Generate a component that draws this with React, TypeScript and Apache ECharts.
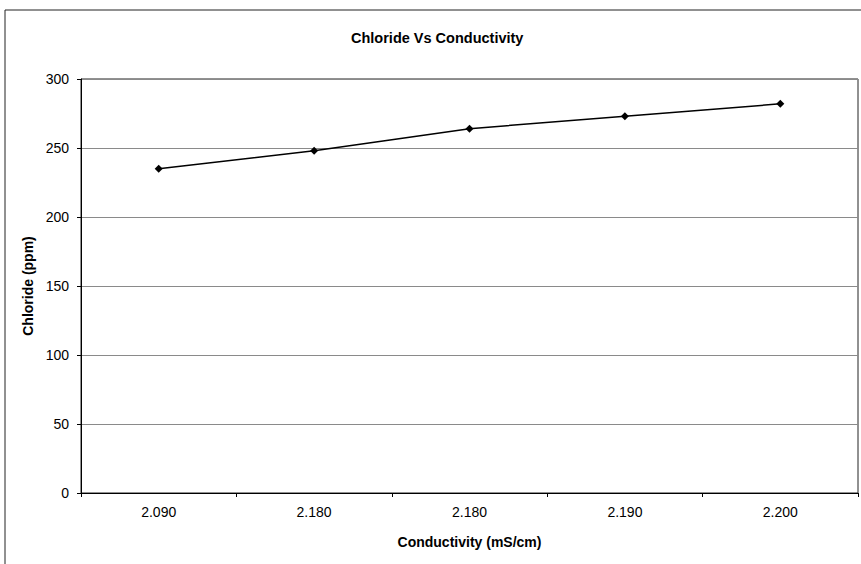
import React, { useEffect, useRef } from "react";
import * as echarts from "echarts";

const categories = ["2.090", "2.180", "2.180", "2.190", "2.200"];
const chloride = [235, 248, 264, 273, 282];
const yTicks = { min: 0, max: 300, interval: 50 };

export default function App() {
  const ref = useRef<HTMLDivElement>(null);
  useEffect(() => {
    if (!ref.current) return;
    const chart = echarts.init(ref.current, null, { renderer: "svg" });
    const font = "Liberation Sans, Arial, sans-serif";
    chart.setOption({
      animation: false,
      backgroundColor: "#fff",
      textStyle: { fontFamily: font },
      title: {
        text: "Chloride Vs Conductivity",
        left: 346,
        top: 25,
        textStyle: { fontSize: 14.5, fontWeight: "bold", color: "#000", fontFamily: font },
      },
      graphic: [
        {
          type: "rect",
          shape: { x: 5, y: 10, width: 900, height: 600 },
          style: { fill: "none", stroke: "#222", lineWidth: 1 },
          silent: true,
        },
      ],
      grid: { left: 81, right: 3, top: 79, bottom: 71, show: true, borderColor: "#222", borderWidth: 1 },
      xAxis: {
        type: "category",
        data: categories,
        boundaryGap: true,
        name: "Conductivity (mS/cm)",
        nameLocation: "middle",
        nameGap: 42,
        nameTextStyle: { fontSize: 14, fontWeight: "bold", color: "#000", fontFamily: font },
        axisLine: { lineStyle: { color: "#000", width: 1 } },
        axisTick: { show: true, length: 4, lineStyle: { color: "#000" } },
        axisLabel: { fontSize: 14, color: "#000", margin: 12, fontFamily: font },
        splitLine: { show: false },
      },
      yAxis: {
        type: "value",
        min: yTicks.min,
        max: yTicks.max,
        interval: yTicks.interval,
        name: "Chloride (ppm)",
        nameLocation: "middle",
        nameGap: 41,
        nameRotate: 90,
        nameTextStyle: { fontSize: 14, fontWeight: "bold", color: "#000", fontFamily: font },
        axisLine: { show: true, lineStyle: { color: "#000", width: 1 } },
        axisTick: { show: true, length: 4, lineStyle: { color: "#000" } },
        axisLabel: { fontSize: 14, color: "#000", margin: 12, fontFamily: font },
        splitLine: { show: true, lineStyle: { color: "#8a8a8a", width: 1 } },
      },
      series: [
        {
          type: "line",
          data: chloride,
          symbol: "diamond",
          symbolSize: 8,
          itemStyle: { color: "#000" },
          lineStyle: { color: "#000", width: 1.5 },
        },
      ],
    });
    return () => chart.dispose();
  }, []);
  return <div ref={ref} style={{ position: "fixed", left: 0, top: 0, width: 861, height: 564 }} />;
}
